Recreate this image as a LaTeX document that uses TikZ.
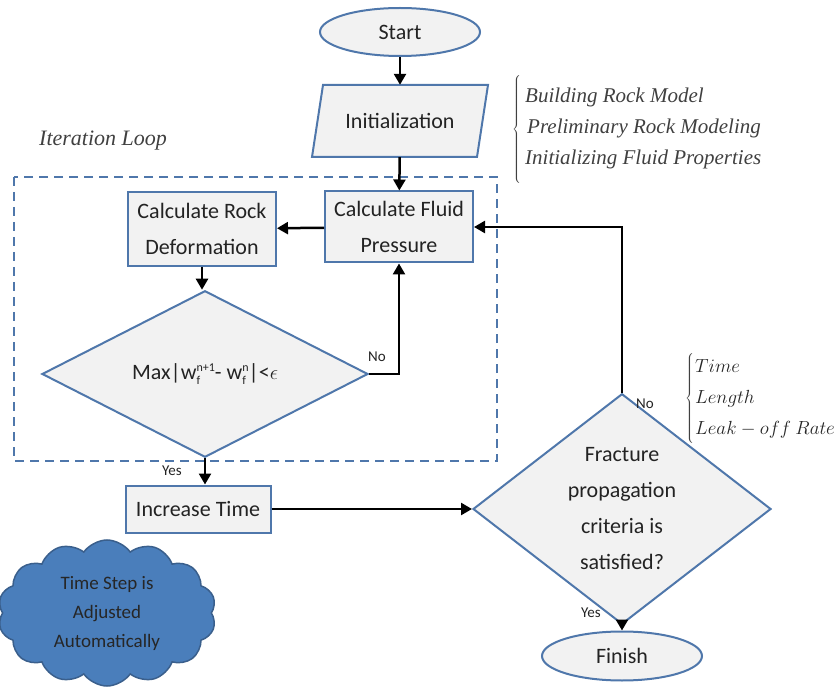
\documentclass[tikz,border=0pt]{standalone}
\usepackage{fontspec}
\setmainfont{Carlito}
\newfontfamily\itfont{Liberation Serif}
\usetikzlibrary{shapes.geometric,shapes.symbols,arrows.meta}

\definecolor{bord}{RGB}{79,119,171}
\definecolor{boxfill}{RGB}{242,242,242}
\definecolor{cloudfill}{RGB}{74,126,187}
\definecolor{cloudbord}{RGB}{58,95,140}
\definecolor{txt}{RGB}{35,35,35}
\newcommand{\wsub}[2]{w\makebox[0pt][l]{\raisebox{-0.45ex}{\fontsize{12}{12}\selectfont #1}}\raisebox{0.75ex}{\fontsize{12}{12}\selectfont #2}}

\begin{document}
\begin{tikzpicture}[x=1pt,y=-1pt,
  base/.style={draw=bord, fill=boxfill, line width=2pt, text=txt, font=\fontsize{22}{36}\selectfont, align=center, inner sep=0pt},
  procbox/.style={base, rectangle, minimum width=148, minimum height=72},
  term/.style={base, ellipse, minimum width=160, minimum height=48},
  decide/.style={base, diamond},
  conn/.style={line width=2.5pt, -{Triangle[length=11pt,width=12pt]}},
  lab/.style={font=\fontsize{15}{15}\selectfont, text=txt},
  note/.style={font=\itfont\itshape\fontsize{21}{31}\selectfont, text=black!75, align=left, inner sep=0pt},
  loopbox/.style={draw=bord, line width=2pt, dash pattern=on 9pt off 6pt}
]
\useasboundingbox (0,0) rectangle (836,687);

% iteration loop frame
\draw[loopbox] (14,177) rectangle (497,461);
\node[note, anchor=west, font=\itfont\itshape\fontsize{22}{31}\selectfont] (looplab) at (39,141) {Iteration Loop};

% nodes
\node[term] (start) at (400,32) {Start};
\draw[draw=bord, fill=boxfill, line width=2pt] (312,157) -- (323,85) -- (488,85) -- (477,157) -- cycle;
\node[rectangle, minimum width=165, minimum height=72, inner sep=0pt, text=txt, font=\fontsize{22}{36}\selectfont] (init) at (400,121) {Initialization};
\node[procbox, minimum height=71] (fluid) at (399,227) {Calculate Fluid\\Pressure};
\node[procbox, minimum height=74] (rock) at (202,229) {Calculate Rock\\Deformation};
\node[decide, minimum width=326, minimum height=158] (dia1) at (205,374) {Max|\wsub{f}{n+1}- \wsub{f}{n}|<$\epsilon$};
\node[procbox, minimum width=145, minimum height=47] (inc) at (198,509) {Increase Time};
\node[decide, minimum width=298, minimum height=180] (dia2) at (622,509) {Fracture\\propagation\\criteria is\\satisfied?};
\node[term, minimum height=49] (finish) at (622,656) {Finish};
\node[cloud, cloud puffs=14, cloud puff arc=110, aspect=1.45, draw=cloudbord, fill=cloudfill, line width=1.5pt, minimum width=218, minimum height=146, inner sep=0pt, align=center, text=black!85, font=\fontsize{19}{29}\selectfont] (cloud) at (107,613) {Time Step is\\Adjusted\\Automatically};

% connectors
\draw[conn] (start) -- (init);
\draw[conn] (init) -- (fluid);
\draw[conn] (fluid) -- (rock);
\draw[conn] (rock.south) -- (rock.south |- dia1.north);
\draw[conn] (dia1.east) -| (fluid.south);
\draw[conn] (dia1.south) -- (dia1.south |- inc.north);
\draw[conn] (inc.east) -- (dia2.west);
\draw[conn] (dia2.north) |- (fluid.east);
\draw[conn] (dia2.south) -- (finish.north);

% labels
\node[lab] (no1) at (377,357) {No};
\node[lab] (yes1) at (172,471) {Yes};
\node[lab] (no2) at (645,404) {No};
\node[lab] (yes2) at (591,613) {Yes};

% notes
\node[inner sep=0pt, anchor=west, text=black!75] (brace1) at (512,130) {$\left\{\rule[-52pt]{0pt}{104pt}\right.$};
\node[note, anchor=west] (initnote) at (525,128) {Building Rock Model\\\hspace{2pt}Preliminary Rock Modeling\\Initializing Fluid Properties};
\node[inner sep=0pt, anchor=west, text=black!75] (brace2) at (685,399) {$\left\{\rule[-43pt]{0pt}{86pt}\right.$};
\node[anchor=west, inner sep=0pt, text=black!85, align=left, font=\fontsize{17.28}{28}\selectfont, scale=1.1, transform shape] (critnote) at (695,399) {$Time$\\$Length$\\$Leak-off\ Rate$};
\end{tikzpicture}
\end{document}
